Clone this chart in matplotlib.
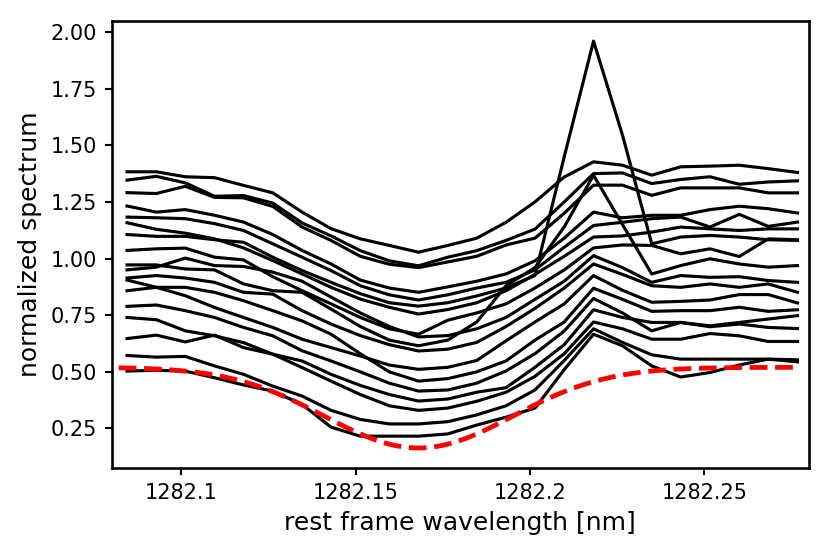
import numpy as np
import matplotlib
matplotlib.use("Agg")
import matplotlib.pyplot as plt

# wavelength grid of the spectra [nm]
wavelength = [1282.0844, 1282.0928, 1282.1011, 1282.1095, 1282.1178, 1282.1262,
              1282.1346, 1282.1429, 1282.1513, 1282.1596, 1282.1680, 1282.1764,
              1282.1847, 1282.1931, 1282.2014, 1282.2098, 1282.2182, 1282.2265,
              1282.2349, 1282.2432, 1282.2516, 1282.2600, 1282.2683, 1282.2767]

spec01 = [1.383, 1.383, 1.361, 1.357, 1.323, 1.290, 1.205, 1.132, 1.087, 1.058, 1.028, 1.058,
          1.090, 1.160, 1.250, 1.360, 1.427, 1.412, 1.368, 1.405, 1.408, 1.412, 1.397, 1.380]
spec02 = [1.346, 1.363, 1.334, 1.275, 1.278, 1.245, 1.157, 1.100, 1.035, 0.990, 0.968, 1.006,
          1.035, 1.080, 1.130, 1.250, 1.375, 1.378, 1.331, 1.349, 1.361, 1.328, 1.338, 1.343]
spec03 = [1.291, 1.287, 1.319, 1.270, 1.268, 1.230, 1.139, 1.080, 1.010, 0.975, 0.960, 0.985,
          1.010, 1.060, 1.090, 1.200, 1.324, 1.324, 1.279, 1.312, 1.312, 1.312, 1.290, 1.290]
spec04 = [1.232, 1.205, 1.216, 1.191, 1.161, 1.106, 1.036, 0.976, 0.905, 0.870, 0.851, 0.875,
          0.900, 0.932, 0.990, 1.090, 1.205, 1.180, 1.191, 1.191, 1.216, 1.231, 1.220, 1.201]
spec05 = [1.183, 1.180, 1.176, 1.154, 1.124, 1.065, 1.006, 0.947, 0.880, 0.840, 0.817, 0.840,
          0.870, 0.895, 0.950, 1.050, 1.146, 1.160, 1.176, 1.183, 1.139, 1.195, 1.142, 1.161]
spec06 = [1.158, 1.129, 1.112, 1.087, 1.047, 0.991, 0.932, 0.873, 0.821, 0.785, 0.755, 0.775,
          0.805, 0.858, 0.930, 1.010, 1.095, 1.100, 1.117, 1.139, 1.131, 1.124, 1.131, 1.131]
spec07 = [1.106, 1.098, 1.098, 1.083, 1.072, 1.006, 0.947, 0.895, 0.845, 0.805, 0.790, 0.805,
          0.835, 0.870, 0.925, 1.450, 1.960, 1.545, 1.065, 1.095, 1.102, 1.095, 1.083, 1.080]
spec08 = [1.036, 1.043, 1.046, 1.006, 0.994, 0.920, 0.858, 0.800, 0.740, 0.690, 0.666, 0.728,
          0.760, 0.800, 0.870, 0.950, 1.047, 1.060, 1.058, 1.021, 1.043, 1.009, 1.087, 1.083]
spec09 = [0.972, 0.972, 0.954, 0.950, 0.888, 0.858, 0.851, 0.777, 0.700, 0.640, 0.615, 0.640,
          0.720, 0.880, 0.960, 1.140, 1.368, 1.150, 0.932, 0.969, 0.999, 0.976, 0.962, 0.969]
spec10 = [0.950, 0.962, 1.002, 0.969, 0.965, 0.940, 0.900, 0.830, 0.760, 0.700, 0.654, 0.660,
          0.690, 0.740, 0.820, 0.900, 1.013, 0.960, 0.895, 0.925, 0.917, 0.920, 0.903, 0.895]
spec11 = [0.914, 0.925, 0.914, 0.895, 0.851, 0.843, 0.770, 0.711, 0.660, 0.620, 0.592, 0.600,
          0.630, 0.700, 0.780, 0.870, 0.976, 0.930, 0.880, 0.873, 0.888, 0.873, 0.888, 0.851]
spec12 = [0.905, 0.873, 0.836, 0.784, 0.740, 0.696, 0.644, 0.607, 0.570, 0.530, 0.511, 0.520,
          0.550, 0.637, 0.720, 0.800, 0.925, 0.860, 0.807, 0.811, 0.817, 0.841, 0.841, 0.804]
spec13 = [0.858, 0.873, 0.873, 0.851, 0.814, 0.770, 0.725, 0.666, 0.580, 0.500, 0.459, 0.470,
          0.500, 0.548, 0.640, 0.720, 0.869, 0.820, 0.767, 0.770, 0.770, 0.785, 0.767, 0.774]
spec14 = [0.789, 0.795, 0.770, 0.740, 0.696, 0.659, 0.593, 0.548, 0.500, 0.450, 0.415, 0.420,
          0.450, 0.504, 0.580, 0.680, 0.824, 0.760, 0.681, 0.718, 0.703, 0.718, 0.733, 0.748]
spec15 = [0.740, 0.730, 0.681, 0.659, 0.629, 0.578, 0.548, 0.489, 0.440, 0.400, 0.371, 0.380,
          0.410, 0.430, 0.520, 0.620, 0.774, 0.740, 0.718, 0.718, 0.699, 0.711, 0.696, 0.691]
spec16 = [0.647, 0.662, 0.632, 0.662, 0.607, 0.578, 0.519, 0.459, 0.400, 0.350, 0.330, 0.340,
          0.370, 0.410, 0.480, 0.580, 0.720, 0.690, 0.644, 0.644, 0.669, 0.659, 0.634, 0.634]
spec17 = [0.572, 0.565, 0.568, 0.526, 0.489, 0.437, 0.393, 0.330, 0.290, 0.270, 0.270, 0.280,
          0.310, 0.350, 0.420, 0.550, 0.690, 0.630, 0.575, 0.556, 0.556, 0.556, 0.556, 0.553]
spec18 = [0.503, 0.507, 0.503, 0.474, 0.442, 0.415, 0.356, 0.256, 0.216, 0.216, 0.216, 0.226,
          0.265, 0.300, 0.340, 0.510, 0.666, 0.615, 0.526, 0.477, 0.497, 0.530, 0.556, 0.544]

spectra = [spec01, spec02, spec03, spec04, spec05, spec06, spec07, spec08, spec09,
           spec10, spec11, spec12, spec13, spec14, spec15, spec16, spec17, spec18]

# gaussian absorption fit (red dashed)
fit_continuum = 0.52
fit_depth = 0.356
fit_center = 1282.168
fit_sigma = 0.027
fit_start = 1282.082

fig = plt.figure(figsize=(830 / 150, 554 / 150), dpi=150)
ax = fig.add_axes([0.1346, 0.1547, 0.8401, 0.8079])

for s in spectra:
    ax.plot(wavelength, s, color="black", lw=1.5)

fit_wl = np.linspace(fit_start, wavelength[-1], 300)
fit = fit_continuum - fit_depth * np.exp(-0.5 * ((fit_wl - fit_center) / fit_sigma) ** 2)
ax.plot(fit_wl, fit, color="red", lw=2.3, linestyle="--")

ax.set_xlim(1282.08, 1282.28)
ax.set_xticks([1282.1, 1282.15, 1282.2, 1282.25])
ax.set_xticklabels(["1282.1", "1282.15", "1282.2", "1282.25"])
ax.set_xlabel("rest frame wavelength [nm]", fontsize=12)
ax.set_ylabel("normalized spectrum", fontsize=12)
for sp in ax.spines.values():
    sp.set_linewidth(1.25)
ax.tick_params(width=1.0)

fig.savefig("out.png", dpi=150)
